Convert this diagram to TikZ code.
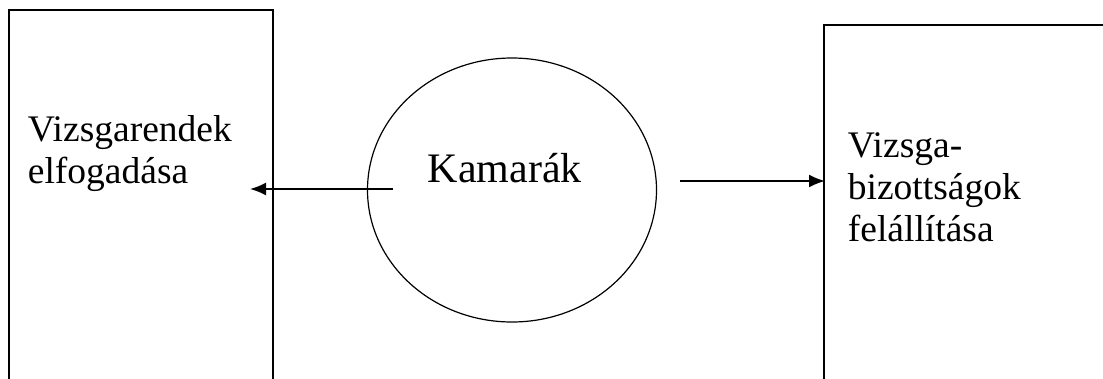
\documentclass[tikz,border=0pt]{standalone}
\usepackage{fontspec}
\setmainfont{Liberation Serif}
\usetikzlibrary{arrows.meta,shapes.geometric,positioning}
\begin{document}
\begin{tikzpicture}[x=1pt, y=1pt, line width=1.8pt,
        main/.style = {align=left, inner sep=0pt, font=\fontsize{37.5}{42}\selectfont},
        arr/.style = {-{Latex[length=16pt,width=13pt]}}]
        \useasboundingbox (0,0) rectangle (1103,-378);
        % boxes (cut off at the page edge)
        \draw (9,-390) -- (9,-10) -- (273,-10) -- (273,-390);
        \draw (824,-390) -- (824,-25) -- (1115,-25);
        \node[draw, ellipse, line width=1.2pt, minimum width=289pt, minimum height=264pt] (K) at (512,-190) {};
        \node[main, anchor=base west] (L) at (27,-183) {Vizsgarendek\\elfogadása};
        \node[main, anchor=base west] (R) at (847,-241) {Vizsga-\\bizottságok\\felállítása};
        \node[main, anchor=base west, font=\fontsize{42}{48}\selectfont] (Kt) at (427,-182) {Kamarák};
        \coordinate (a1) at (393,-189);
        \coordinate (a2) at (250,-189);
        \coordinate (b1) at (680,-181);
        \coordinate (b2) at (825,-181);
        \draw[arr] (a1) -- (a2);
        \draw[arr] (b1) -- (b2);
    \end{tikzpicture}
\end{document}
